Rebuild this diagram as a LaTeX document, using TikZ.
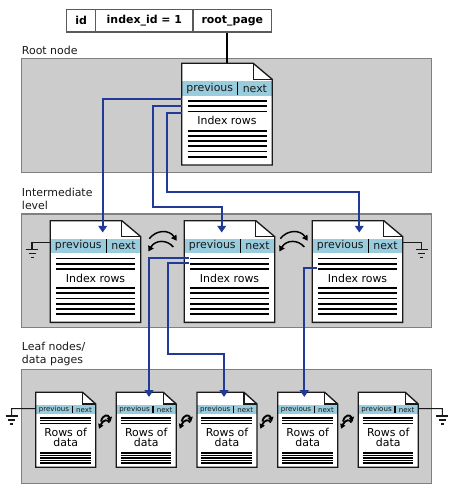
\documentclass[tikz,border=0pt]{standalone}
\usepackage{fontspec}
\setmainfont{DejaVu Sans}
\usetikzlibrary{arrows.meta,calc}
\definecolor{panelfill}{RGB}{204,204,204}
\definecolor{panelline}{RGB}{128,128,128}
\definecolor{hdr}{RGB}{153,204,221}
\definecolor{lnk}{RGB}{33,58,150}
\definecolor{ink}{RGB}{25,25,25}
\definecolor{cellline}{RGB}{90,90,90}
\tikzset{
  panelbox/.style={fill=panelfill,draw=panelline,line width=0.8pt},
  pageedge/.style={draw=ink,line width=1pt},
  rowline/.style={draw=black,line width=1.3pt},
  leafrow/.style={draw=black,line width=1.1pt},
  hdrtext/.style={inner sep=0,text=ink,font=\fontsize{8.2}{10}\selectfont},
  smallhdr/.style={inner sep=0,text=ink,font=\fontsize{5.3}{6}\selectfont},
  bodytext/.style={inner sep=0,text=black,font=\fontsize{8.2}{10}\selectfont},
  leaftext/.style={inner sep=0,text=black,align=center,font=\fontsize{8.2}{7.5}\selectfont},
  lbl/.style={inner sep=0,anchor=west,text=ink,font=\fontsize{8.2}{10}\selectfont},
  cell/.style={draw=cellline,fill=white,line width=1pt,inner sep=0,minimum height=17pt,font=\bfseries\fontsize{8.2}{10}\selectfont},
  link/.style={draw=lnk,line width=1.5pt,-{Triangle[length=5pt,width=6.5pt]}},
  swap/.style={draw=black,line width=1.1pt,-{Triangle[length=4pt,width=4.5pt]}},
  swapsmall/.style={draw=black,line width=1.4pt,-{Triangle[length=3.5pt,width=4pt]}},
  gndline/.style={draw=ink,line width=0.8pt},
}
% big page: name, left x, top y
\newcommand\bigpage[3]{%
\begin{scope}[shift={(#2,#3)}]
  \node[inner sep=0,minimum width=67.875pt,minimum height=76.3pt,anchor=north west] (#1) at (0,0) {};
  \fill[white] (0,0) -- (71.5,0) -- (90.5,16) -- (90.5,101.7) -- (0,101.7) -- cycle;
  \fill[hdr] (0,18) rectangle (90.5,32.5);
  \draw[pageedge] (0,0) -- (71.5,0) -- (90.5,16) -- (90.5,101.7) -- (0,101.7) -- cycle;
  \draw[pageedge] (71.5,0) -- (71.5,16) -- (90.5,16);
  \draw[draw=black,line width=0.9pt] (56,18.5) -- (56,32);
  \node[hdrtext] at (28,25.2) {previous};
  \node[hdrtext] at (73.2,25.2) {next};
  \foreach \yy in {37.7,43,48.3} \draw[rowline] (6,\yy) -- (85,\yy);
  \node[bodytext] at (45.25,57.5) {Index rows};
  \foreach \yy in {67.4,72.6,77.8,83,88.2,93.4} \draw[rowline] (6,\yy) -- (85,\yy);
\end{scope}}
% leaf page: name, left x, top y
\newcommand\leafpage[3]{%
\begin{scope}[shift={(#2,#3)}]
  \node[inner sep=0,minimum width=45pt,minimum height=56.25pt,anchor=north west] (#1) at (0,0) {};
  \fill[white] (0,0) -- (47,0) -- (60,11.7) -- (60,75) -- (0,75) -- cycle;
  \fill[hdr] (0,13) rectangle (60,21.5);
  \draw[pageedge] (0,0) -- (47,0) -- (60,11.7) -- (60,75) -- (0,75) -- cycle;
  \draw[pageedge] (47,0) -- (47,11.7) -- (60,11.7);
  \draw[draw=black,line width=0.9pt] (36.6,13.5) -- (36.6,21);
  \node[smallhdr] at (18.3,17.3) {previous};
  \node[smallhdr] at (48.3,17.3) {next};
  \foreach \yy in {25.8,28.4,31} \draw[leafrow] (4.3,\yy) -- (55,\yy);
  \node[leaftext] at (30,45.4) {Rows of\\data};
  \foreach \yy in {60.5,63,65.5,68,70.5} \draw[leafrow] (4.3,\yy) -- (55,\yy);
\end{scope}}
% ground symbol: x, y of first bar
\newcommand\groundsym[2]{%
  \draw[gndline] (#1-6,#2) -- (#1+6,#2);
  \draw[gndline] (#1-3.5,#2+4) -- (#1+3.5,#2+4);
  \draw[gndline] (#1-1.5,#2+8) -- (#1+1.5,#2+8);}
% big swap arrows around centre x
\newcommand\bigswap[1]{%
  \draw[swap] (#1-13,238.7) .. controls (#1-6,229.5) and (#1+7,229.5) .. (#1+14.4,240.8);
  \draw[swap] (#1+11,247) .. controls (#1+5,239.5) and (#1-7,239.5) .. (#1-14,251.5);}
\newcommand\smallswap[1]{%
  \draw[swapsmall] (#1-5,421.5) .. controls (#1-3.5,414.5) and (#1+2.5,414) .. (#1+4.5,421.8);
  \draw[swapsmall] (#1+3.5,422.5) .. controls (#1+2,419) and (#1-3,419.5) .. (#1-7,428.8);}

\begin{document}
\begin{tikzpicture}[x=0.75pt,y=-0.75pt]
\useasboundingbox (0,0) rectangle (472,489);
% panels
\draw[panelbox] (21.3,58.3) rectangle (431.7,172.3);
\draw[panelbox] (21.3,214) rectangle (431.7,327.3);
\draw[panelbox] (21.3,369.3) rectangle (431.7,483.3);
% labels
\node[lbl] (lroot) at (21.7,50) {Root node};
\node[lbl] (lint1) at (21.7,192.5) {Intermediate};
\node[lbl] (lint2) at (21.7,205.2) {level};
\node[lbl] (lleaf1) at (21.7,347) {Leaf nodes/};
\node[lbl] (lleaf2) at (21.7,360.5) {data pages};
% top table
\node[cell,minimum width=21.75pt] (t1) at (81.2,20.65) {id};
\node[cell,minimum width=73pt] (t2) at (144.35,20.65) {index\_id = 1};
\node[cell,minimum width=59pt] (t3) at (232.35,20.65) {root\_page};
% pages
\bigpage{root}{181.7}{63.3}
\bigpage{i1}{50.3}{220.7}
\bigpage{i2}{184.3}{220.7}
\bigpage{i3}{312.3}{220.7}
\leafpage{l1}{35.7}{392.3}
\leafpage{l2}{116.3}{392.3}
\leafpage{l3}{197.0}{392.3}
\leafpage{l4}{277.7}{392.3}
\leafpage{l5}{358.3}{392.3}
% root pointer
\draw[draw=black,line width=1.5pt] (t3.south -| root.north) -- (root.north);
% ground symbols
\draw[gndline] ($(i1.north west)+(0,21.6)$) -- (32,242.3) -- (32,249.5);
\groundsym{32}{249.5}
\draw[gndline] ($(i3.north east)+(0,21.6)$) -- (421.7,242.3) -- (421.7,249.5);
\groundsym{421.7}{249.5}
\draw[gndline] ($(l1.north west)+(0,16.4)$) -- (11.7,408.7) -- (11.7,416);
\groundsym{11.7}{416}
\draw[gndline] ($(l5.north east)+(0,16.4)$) -- (442.3,408.7) -- (442.3,416);
\groundsym{442.3}{416}
% sibling arrows
\bigswap{162.3}
\bigswap{293.3}
\smallswap{106}
\smallswap{186.7}
\smallswap{267.4}
\smallswap{348}
% child pointers
\coordinate (c2) at (153.3,206.7);
\coordinate (c3) at (166.7,191.7);
\coordinate (c5) at (168.3,354.3);
\draw[link] ($(root.north west)+(0,35.7)$) -| ($(i1.north west)+(52.4,11.8)$);
\draw[link] ($(root.north west)+(0,42.7)$) -| (c2) -| ($(i2.north west)+(37.4,11.8)$);
\draw[link] ($(root.north west)+(0,49.4)$) -| (c3) -| ($(i3.north west)+(47,11.8)$);
\draw[link] ($(i2.north west)+(4.7,37.6)$) -| ($(l2.north west)+(32.7,4.6)$);
\draw[link] ($(i2.north west)+(4.7,42.6)$) -| (c5) -| ($(l3.north west)+(27,4.6)$);
\draw[link] ($(i3.north west)+(4.4,47)$) -| ($(l4.north west)+(26.6,4.6)$);
\end{tikzpicture}
\end{document}
